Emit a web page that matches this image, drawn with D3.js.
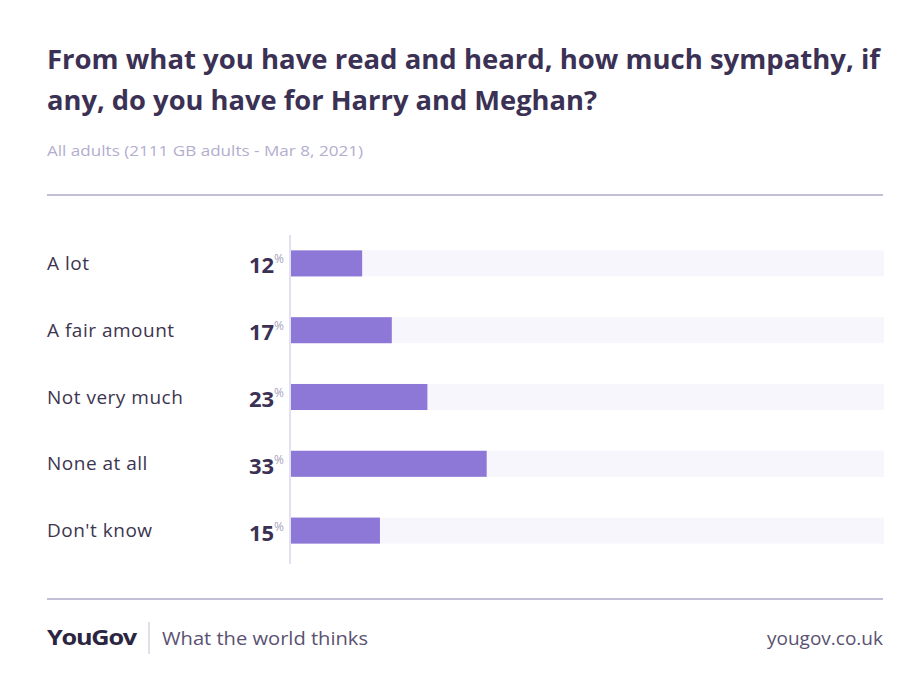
<!DOCTYPE html>
<html>
<head>
<meta charset="utf-8">
<script src="https://cdn.jsdelivr.net/npm/d3@7"></script>
<style>
  body { margin: 0; background: #fff; }
  svg { font-family: "Open Sans", "Lato", sans-serif; }
</style>
</head>
<body>
<svg id="chart" width="905" height="688"></svg>
<script>
const titleLines = ["From what you have read and heard, how much sympathy, if",
                    "any, do you have for Harry and Meghan?"];
const subtitle = "All adults (2111 GB adults - Mar 8, 2021)";
const categories = ["A lot", "A fair amount", "Not very much", "None at all", "Don't know"];
const values = [12, 17, 23, 33, 15];

const width = 905, height = 688;
const left = 47, right = 883;

const svg = d3.select("#chart");
svg.append("rect").attr("width", width).attr("height", height).attr("fill", "#fff");

// stretch a text to a wanted width (font is narrower than the original)
function fitWidth(sel, w) {
    sel.each(function () {
        const cur = this.getComputedTextLength();
        if (cur > 0) d3.select(this).attr("textLength", w).attr("lengthAdjust", "spacingAndGlyphs");
    });
}

// title + subtitle
const title = svg.append("g")
    .selectAll("text")
    .data(titleLines)
    .enter()
    .append("text")
    .attr("x", left)
    .attr("y", (d, i) => 69 + i * 41)
    .attr("font-size", 26)
    .attr("font-weight", 700)
    .attr("fill", "#3b3154")
    .text(d => d);
title.filter((d, i) => i === 0).call(fitWidth, 833);
title.filter((d, i) => i === 1).call(fitWidth, 550);

svg.append("text")
    .attr("x", left).attr("y", 156)
    .attr("font-size", 15)
    .attr("fill", "#b3aece")
    .text(subtitle)
    .call(fitWidth, 316);

svg.append("line")
    .attr("x1", left).attr("x2", right)
    .attr("y1", 195).attr("y2", 195)
    .attr("stroke", "#c4bfd6").attr("stroke-width", 2);

// scales
const x = d3.scaleLinear().domain([0, 100]).range([291, 884]);
const y = d3.scaleBand()
    .domain(categories)
    .range([230, 564])
    .paddingInner(0.61)
    .paddingOuter(0.305);

const data = categories.map((c, i) => ({name: c, value: values[i]}));

const rows = svg.append("g").selectAll("g")
    .data(data)
    .enter()
    .append("g");

rows.append("rect")
    .attr("x", x(0))
    .attr("y", d => y(d.name))
    .attr("width", x(100) - x(0))
    .attr("height", y.bandwidth())
    .attr("fill", "#f7f6fc");

rows.append("rect")
    .attr("x", x(0))
    .attr("y", d => y(d.name))
    .attr("width", d => x(d.value) - x(0))
    .attr("height", y.bandwidth())
    .attr("fill", "#8e78d7");

rows.append("text")
    .attr("x", left)
    .attr("y", d => y(d.name) + y.bandwidth() / 2)
    .attr("dy", "0.35em")
    .attr("font-size", 19)
    .attr("letter-spacing", 0.5)
    .attr("fill", "#3d3550")
    .text(d => d.name);

const lbl = rows.append("text")
    .attr("x", 284)
    .attr("y", d => y(d.name) + y.bandwidth() / 2 + 10)
    .attr("text-anchor", "end");
lbl.append("tspan")
    .attr("font-size", 22)
    .attr("font-weight", 700)
    .attr("fill", "#3b3154")
    .text(d => d.value);
lbl.append("tspan")
    .attr("font-size", 12)
    .attr("dy", -10)
    .attr("fill", "#a8a3bd")
    .text("%");

// axis line
svg.append("line")
    .attr("x1", 290).attr("x2", 290)
    .attr("y1", 235).attr("y2", 564)
    .attr("stroke", "#e3e0ef").attr("stroke-width", 2);

// footer
svg.append("line")
    .attr("x1", left).attr("x2", right)
    .attr("y1", 599).attr("y2", 599)
    .attr("stroke", "#c4bfd6").attr("stroke-width", 2);

svg.append("text")
    .attr("x", left).attr("y", 645)
    .attr("font-size", 21)
    .attr("font-weight", 700)
    .attr("letter-spacing", -1)
    .attr("fill", "#2b2540")
    .text("YouGov")
    .call(fitWidth, 89);

svg.append("line")
    .attr("x1", 149).attr("x2", 149)
    .attr("y1", 622).attr("y2", 654)
    .attr("stroke", "#d9d5e5").attr("stroke-width", 1.5);

svg.append("text")
    .attr("x", 162).attr("y", 645)
    .attr("font-size", 19)
    .attr("fill", "#5a5272")
    .text("What the world thinks")
    .call(fitWidth, 206);

svg.append("text")
    .attr("x", right).attr("y", 645)
    .attr("text-anchor", "end")
    .attr("font-size", 19)
    .attr("fill", "#5a5272")
    .text("yougov.co.uk");
</script>
</body>
</html>
